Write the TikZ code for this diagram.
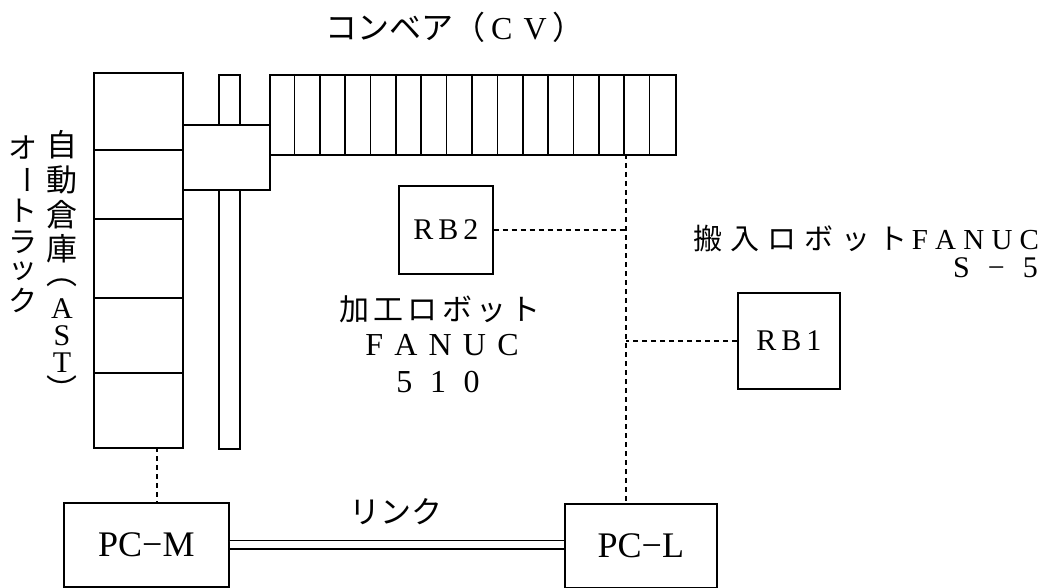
\documentclass[tikz,border=0pt]{standalone}
\usepackage{fontspec}
\usepackage{graphicx}
\setmainfont{Liberation Serif}
\newfontfamily\jp{Noto Sans CJK JP}
\newfontfamily\jpw[LetterSpace=28]{Noto Sans CJK JP}
\newfontfamily\jpm[LetterSpace=14]{Noto Sans CJK JP}
\newcommand\lsp{\hspace{0.35em}}
\begin{document}
\begin{tikzpicture}[x=1pt,y=-1pt,
  box/.style={draw, line width=1.7pt, inner sep=0pt, anchor=north west},
  dl/.style={line width=1.5pt, dash pattern=on 5pt off 4pt},
  lbl/.style={inner sep=0pt, font=\fontsize{30}{32}\selectfont},
  vt/.style={inner sep=0pt, font=\fontsize{31}{32}\selectfont},
  vl/.style={inner sep=0pt, font=\fontsize{30}{32}\selectfont, text height=20pt, text depth=0pt}]
\useasboundingbox (0,0) rectangle (1062,588);

% title
\node[lbl, font=\fontsize{32}{34}\selectfont] (cvlabel) at (455,27) {\jp コンベア（\rmfamily\,C\lsp V\,\jp ）};

% automatic warehouse rack
\node[box, minimum width=89pt, minimum height=375pt] (ast) at (93,72) {};
\foreach \yy in {150,219,298,373} \draw[line width=1.7pt] (93,\yy) -- (182,\yy);

% rail and carriage
\node[box, minimum width=21pt, minimum height=374pt] (rail) at (218,74) {};
\node[box, fill=white, minimum width=87pt, minimum height=65pt] (carriage) at (182,124) {};

% conveyor
\node[box, minimum width=406pt, minimum height=80pt] (cv) at (269,74) {};
\foreach \k in {1,...,15} \draw[line width=1.7pt] (269+\k*25.375,74) -- (269+\k*25.375,154);

% vertical labels
\foreach \c/\yy/\st [count=\i] in {{\jp 自}/145/vt,{\jp 動}/180/vt,{\jp 倉}/215/vt,{\jp 庫}/249/vt,{\jp ︵}/283/vt,A/308/vl,S/335/vl,T/362/vl,{\jp ︶}/389/vt}
  \node[\st] (ast\i) at (62,\yy) {\c};
\foreach \c/\yy [count=\i] in {{\jp オ}/148,{\rotatebox{-90}{\jp ー}}/180,{\jp ト}/211,{\jp ラ}/242,{\jp ッ}/271,{\jp ク}/300}
  \node[vt, font=\fontsize{29}{30}\selectfont] (ot\i) at (23,\yy) {\c};

% robots
\node[box, minimum width=94pt, minimum height=88pt] (rb2) at (398,185) {};
\node[lbl] (rb2t) at (rb2.center) {R\,B\,2};
\node[box, minimum width=102pt, minimum height=96pt] (rb1) at (737,292) {};
\node[lbl] (rb1t) at (rb1.center) {R\,B\,1};

\node[lbl] (kakou) at (440,309) {\jpm 加工ロボット};
\node[lbl, font=\fontsize{32}{34}\selectfont] (fanuc2) at (442,345) {F\lsp A\lsp N\lsp U\lsp C};
\node[lbl, font=\fontsize{32}{34}\selectfont] (n510) at (438,382) {5\hspace{0.55em}1\hspace{0.55em}0};

\node[lbl, anchor=west, font=\fontsize{29}{30}\selectfont] (hannyu) at (693,239) {\jpw 搬入ロボット\rmfamily\hspace{4pt}F\hspace{0.25em}A\hspace{0.25em}N\hspace{0.25em}U\hspace{0.25em}C};
\node[lbl, anchor=east, font=\fontsize{30}{32}\selectfont] (s5) at (1038,268) {S\hspace{0.6em}−\hspace{0.6em}5};

% controllers
\node[box, minimum width=165pt, minimum height=84pt] (pcm) at (63,502) {};
\node[lbl, font=\fontsize{36}{38}\selectfont] (pcmt) at (pcm.center) {PC−M};
\node[box, minimum width=152pt, minimum height=84pt] (pcl) at (564,503) {};
\node[lbl, font=\fontsize{36}{38}\selectfont] (pclt) at (pcl.center) {PC−L};

\node[lbl, font=\fontsize{31}{32}\selectfont] (link) at (396,512) {\jp リンク};

% connections
\draw[double, double distance=7pt, line width=1.3pt] (pcm.east) -- (pcm.east -| pcl.west);
\coordinate (tapM) at (157,447);
\draw[dl] (tapM) -- (tapM |- pcm.north);
\coordinate (tapL) at (626,154);
\draw[dl] (tapL) -- (tapL |- pcl.north);
\draw[dl] (rb2.east) -- (rb2.east -| tapL);
\draw[dl] (rb1.west) -- (rb1.west -| tapL);
\end{tikzpicture}
\end{document}
